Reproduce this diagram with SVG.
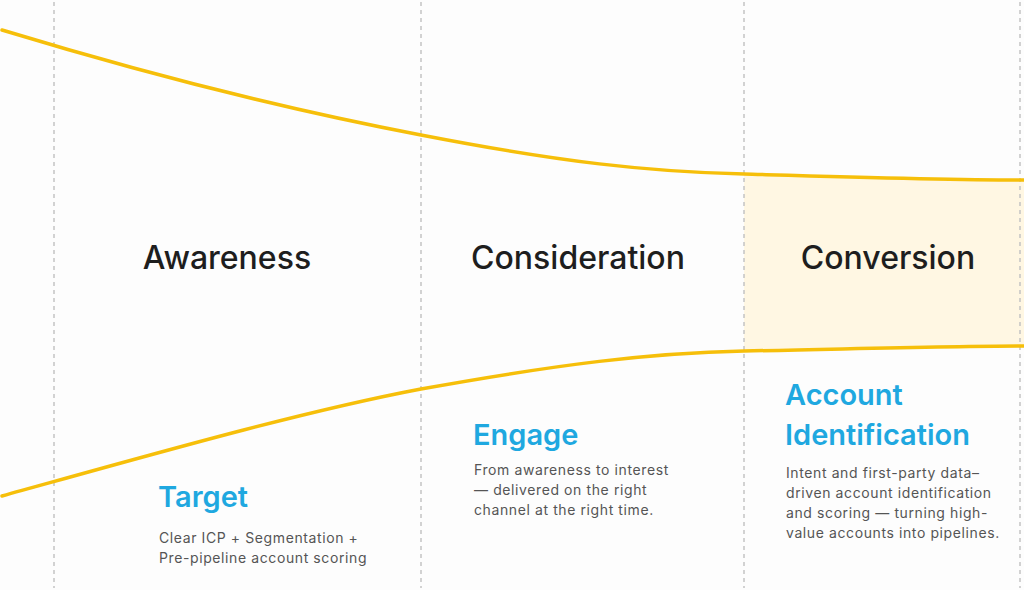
<svg xmlns="http://www.w3.org/2000/svg" width="1024" height="590" viewBox="0 0 1024 590">
<style>
.div{stroke:#c4c4c4;stroke-width:1.5;stroke-dasharray:4 4;fill:none}
.curve{stroke:#f6bf0a;stroke-width:3.5;fill:none;stroke-linecap:round}
.stage{font-family:Inter,"Liberation Sans",sans-serif;font-size:32px;font-weight:500;fill:#1e1e1e;text-anchor:middle}
.title{font-family:Inter,"Liberation Sans",sans-serif;font-size:29px;font-weight:600;fill:#1fa8e0}
.body{font-family:Inter,"Liberation Sans",sans-serif;font-size:14px;fill:#555;letter-spacing:0.6px}
</style>
<rect width="1024" height="590" fill="#fdfdfd"/>
<path d="M744,174 C850,177 950,180 1024,180 L1024,346 C950,346 850,349 744,351 Z" fill="#fff7e3"/>
<g id="dividers">
<line class="div" x1="54" y1="2" x2="54" y2="588"/>
<line class="div" x1="421" y1="2" x2="421" y2="588"/>
<line class="div" x1="744" y1="2" x2="744" y2="588"/>
<line class="div" x1="1020" y1="2" x2="1020" y2="588"/>
</g>
<g id="connectors">
<path class="curve" d="M2,30 C150,75 300,112 421,135 C560,162 650,172 744,174 C850,177 950,180 1024,180"/>
<path class="curve" d="M2,496 C150,455 300,412 421,389 C560,364 650,353 744,351 C850,349 950,346 1024,346"/>
</g>
<g id="awareness">
<text class="stage" x="227" y="269">Awareness</text>
<text class="title" x="158" y="507">Target</text>
<text class="body" x="159" y="543">Clear ICP + Segmentation +</text>
<text class="body" x="159" y="563">Pre-pipeline account scoring</text>
</g>
<g id="consideration">
<text class="stage" x="578" y="269">Consideration</text>
<text class="title" x="473" y="445">Engage</text>
<text class="body" x="474" y="475">From awareness to interest</text>
<text class="body" x="474" y="495">— delivered on the right</text>
<text class="body" x="474" y="515">channel at the right time.</text>
</g>
<g id="conversion">
<text class="stage" x="888" y="269">Conversion</text>
<text class="title" x="785" y="405">Account</text>
<text class="title" x="785" y="445">Identification</text>
<text class="body" x="786" y="478">Intent and first-party data–</text>
<text class="body" x="786" y="498">driven account identification</text>
<text class="body" x="786" y="518">and scoring — turning high-</text>
<text class="body" x="786" y="538">value accounts into pipelines.</text>
</g>
</svg>
